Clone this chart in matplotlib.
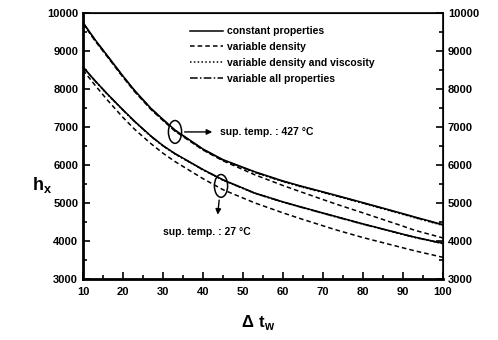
import matplotlib
matplotlib.use('Agg')
import matplotlib.pyplot as plt
from matplotlib.patches import Ellipse
from matplotlib.ticker import MultipleLocator

plt.rcParams['font.family'] = ['Liberation Sans', 'DejaVu Sans']
plt.rcParams['font.weight'] = 'bold'
plt.rcParams['mathtext.fontset'] = 'custom'
plt.rcParams['mathtext.rm'] = 'Liberation Sans:bold'
plt.rcParams['mathtext.bf'] = 'Liberation Sans:bold'

# wall temperature difference
dtw = [10, 13, 16, 20, 23, 27, 30, 33, 40, 45, 53, 60, 64, 73, 80, 90, 93, 100]

# sup. temp. 427 C
hot_const = [9750, 9300, 8890, 8340, 7950, 7490, 7200, 6920, 6420, 6140, 5820, 5580, 5460, 5210, 5010, 4720, 4630, 4430]
hot_dens = [9720, 9270, 8860, 8310, 7920, 7460, 7170, 6890, 6395, 6110, 5740, 5460, 5310, 4980, 4740, 4390, 4280, 4080]
hot_visc = [9730, 9280, 8870, 8320, 7930, 7470, 7180, 6900, 6405, 6125, 5800, 5560, 5440, 5190, 4990, 4700, 4610, 4410]
hot_all = [9740, 9290, 8880, 8330, 7940, 7480, 7190, 6910, 6410, 6130, 5810, 5570, 5450, 5200, 5000, 4710, 4620, 4420]

# sup. temp. 27 C
cold_const = [8580, 8220, 7880, 7450, 7140, 6760, 6510, 6300, 5880, 5610, 5260, 5030, 4910, 4650, 4450, 4180, 4100, 3940]
cold_dens = [8500, 8100, 7720, 7250, 6930, 6560, 6310, 6090, 5640, 5350, 5000, 4740, 4600, 4300, 4090, 3820, 3740, 3570]
cold_visc = [8570, 8210, 7870, 7440, 7130, 6750, 6500, 6290, 5870, 5600, 5250, 5020, 4900, 4640, 4440, 4170, 4090, 3930]
cold_all = [8575, 8215, 7875, 7445, 7135, 6755, 6505, 6295, 5875, 5605, 5255, 5025, 4905, 4645, 4445, 4175, 4095, 3935]

fig = plt.figure(figsize=(4.98, 3.4), dpi=100)
ax = fig.add_axes([0.1667, 0.1794, 0.7229, 0.7824])

lw = 1.1
ax.plot(dtw, hot_const, color='black', lw=lw, ls='-', label='constant properties')
ax.plot(dtw, hot_dens, color='black', lw=lw, ls=(0, (3, 2)), label='variable density')
ax.plot(dtw, hot_visc, color='black', lw=lw, ls=(0, (1, 1.5)), label='variable density and viscosity')
ax.plot(dtw, hot_all, color='black', lw=lw, ls=(0, (5, 1.5, 1, 1.5)), label='variable all properties')
ax.plot(dtw, cold_const, color='black', lw=lw, ls='-')
ax.plot(dtw, cold_dens, color='black', lw=lw, ls=(0, (3, 2)))
ax.plot(dtw, cold_visc, color='black', lw=lw, ls=(0, (1, 1.5)))
ax.plot(dtw, cold_all, color='black', lw=lw, ls=(0, (5, 1.5, 1, 1.5)))

ax.set_xlim(10, 100)
ax.set_ylim(3000, 10000)
ax.xaxis.set_major_locator(MultipleLocator(10))
ax.xaxis.set_minor_locator(MultipleLocator(5))
ax.yaxis.set_major_locator(MultipleLocator(1000))
ax.yaxis.set_minor_locator(MultipleLocator(500))
ax.tick_params(which='both', direction='in', labelsize=8, width=1.2)
ax.tick_params(which='major', length=5)
ax.tick_params(which='minor', length=3)
ax.tick_params(axis='x', pad=6)
for s in ['left', 'bottom']:
    ax.spines[s].set_linewidth(2)
ax.spines['top'].set_linewidth(1.2)
ax.spines['right'].set_linewidth(1.2)

ax2 = ax.twinx()
ax2.set_ylim(3000, 10000)
ax2.yaxis.set_major_locator(MultipleLocator(1000))
ax2.yaxis.set_minor_locator(MultipleLocator(500))
ax2.tick_params(which='both', direction='in', labelsize=8, width=1.2)
ax2.tick_params(which='major', length=5)
ax2.tick_params(which='minor', length=3)

leg = ax.legend(loc='upper left', bbox_to_anchor=(0.27, 0.985), frameon=False,
                fontsize=7.5, handlelength=3.2, handletextpad=0.4, labelspacing=0.55)

# annotations
ax.add_patch(Ellipse((33, 6870), 3.3, 600, fill=False, lw=1.1, color='black'))
ax.annotate('', xy=(43, 6870), xytext=(34.7, 6870),
            arrowprops=dict(arrowstyle='-|>', color='black', lw=1, mutation_scale=8))
ax.text(44.3, 6870, 'sup. temp. : 427 °C', fontsize=7.5, va='center', ha='left')

ax.add_patch(Ellipse((44.5, 5450), 3.3, 600, fill=False, lw=1.1, color='black'))
ax.annotate('', xy=(43.6, 4620), xytext=(44.1, 5150),
            arrowprops=dict(arrowstyle='-|>', color='black', lw=1, mutation_scale=8))
ax.text(30, 4240, 'sup. temp. : 27 °C', fontsize=7.5, va='center', ha='left')

fig.text(0.085, 0.455, r'$\mathbf{h}_{\mathbf{x}}$', fontsize=13, ha='center', va='center')
fig.text(0.518, 0.05, r'$\mathbf{\Delta\ t}_{\mathbf{w}}$', fontsize=12, ha='center', va='center')

fig.savefig('out.png', dpi=100)
